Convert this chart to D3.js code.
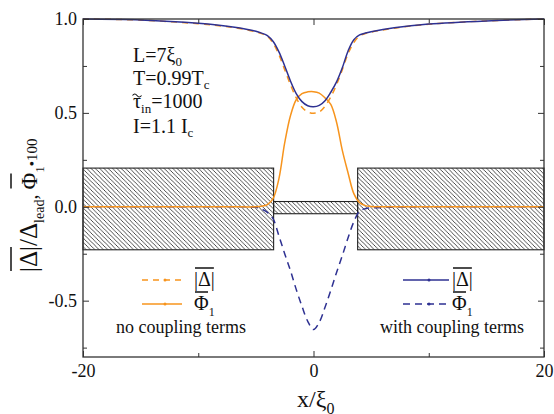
<!DOCTYPE html>
<html>
<head>
<meta charset="utf-8">
<script src="https://cdn.jsdelivr.net/npm/d3@7"></script>
<style>
body { margin: 0; background: #fff; }
svg { display: block; }
</style>
</head>
<body>
<script>
//----------------
//Data
//----------------
var xs = [-20, -15, -10, -7, -5, -4.5, -4, -3.5, -3, -2.5, -2, -1.5, -1, -0.5, 0,
	0.5, 1, 1.5, 2, 2.5, 3, 3.5, 4, 4.5, 5, 7, 10, 15, 20]

//no coupling terms
var deltaNoCoupling = [1.0, 0.994, 0.975, 0.955, 0.932, 0.922, 0.908, 0.87, 0.81, 0.73, 0.65, 0.58, 0.53, 0.505, 0.498,
	0.505, 0.535, 0.585, 0.65, 0.73, 0.815, 0.875, 0.91, 0.922, 0.93, 0.951, 0.972, 0.99, 1.0]
var phiNoCoupling = [0, 0, 0, 0, 0, 0.003, 0.012, 0.045, 0.15, 0.34, 0.485, 0.57, 0.603, 0.612, 0.613,
	0.605, 0.58, 0.545, 0.45, 0.3, 0.18, 0.07, 0.022, 0.006, 0.002, 0, 0, 0, 0]

//with coupling terms
var deltaCoupling = [1.0, 0.995, 0.977, 0.957, 0.935, 0.925, 0.912, 0.88, 0.825, 0.75, 0.67, 0.603, 0.56, 0.538, 0.533,
	0.54, 0.565, 0.61, 0.665, 0.74, 0.83, 0.89, 0.915, 0.925, 0.932, 0.953, 0.973, 0.99, 1.0]
var phiCoupling = [0, 0, 0, 0, -0.003, -0.012, -0.03, -0.065, -0.155, -0.25, -0.34, -0.44, -0.53, -0.61, -0.654,
	-0.615, -0.535, -0.445, -0.35, -0.26, -0.165, -0.08, -0.023, -0.01, -0.006, -0.002, 0, 0, 0]

//hatched regions: [x0, x1, yLow, yHigh]
var leftLead = [-20, -3.46, -0.229, 0.206]
var junction = [-3.46, 3.83, -0.037, 0.028]
var rightLead = [3.83, 20, -0.229, 0.206]

var xTicks = [-20, 0, 20]
var xMinor = [-10, 10]
var yTicks = [-0.5, 0.0, 0.5, 1.0]
var yMinor = [-0.75, -0.25, 0.25, 0.75]

//----------------
//Setup
//----------------
var _width = 554,
	_height = 414

var _font = 'Liberation Serif'

var _orange = '#f7941d',
	_blue = '#2e3192',
	_axis = '#333'

var x = d3.scaleLinear().domain([-20, 20]).range([83, 544])
var y = d3.scaleLinear().domain([-0.8, 1.0]).range([357, 19])

var svg = d3.select('body').append('svg')
	.attr('width', _width)
	.attr('height', _height)
	.attr('font-family', _font)

//hatch pattern
var s = 4.3
svg.append('defs').append('pattern')
	.attr('id', 'hatch')
	.attr('patternUnits', 'userSpaceOnUse')
	.attr('width', s).attr('height', s)
	.append('path')
	.attr('d', 'M0,0L' + s + ',' + s + 'M' + (-1) + ',' + (s - 1) + 'L1,' + (s + 1) + 'M' + (s - 1) + ',-1L' + (s + 1) + ',1')
	.attr('stroke', '#222')
	.attr('stroke-width', 0.8)

//Hatched boxes
var gBoxes = svg.append('g')
gBoxes.selectAll('rect').data([leftLead, junction, rightLead]).enter().append('rect')
	.attr('x', function(d) { return x(d[0]) })
	.attr('y', function(d) { return y(d[3]) })
	.attr('width', function(d) { return x(d[1]) - x(d[0]) })
	.attr('height', function(d) { return y(d[2]) - y(d[3]) })
	.attr('fill', 'url(#hatch)')
	.attr('stroke', '#222')
	.attr('stroke-width', 1.1)

//Curves
var line = d3.line()
	.x(function(d) { return x(d[0]) })
	.y(function(d) { return y(d[1]) })
	.curve(d3.curveCatmullRom.alpha(0.5))

function series(vals){
	return xs.map(function(v, i){ return [v, vals[i]] })
}

var gLines = svg.append('g').attr('fill', 'none').attr('stroke-width', 1.5)
gLines.append('path').attr('d', line(series(phiCoupling)))
	.attr('stroke', _blue).attr('stroke-dasharray', '7,5')
gLines.append('path').attr('d', line(series(phiNoCoupling)))
	.attr('stroke', _orange)
gLines.append('path').attr('d', line(series(deltaNoCoupling)))
	.attr('stroke', _orange).attr('stroke-dasharray', '6,5')
gLines.append('path').attr('d', line(series(deltaCoupling)))
	.attr('stroke', _blue)

//Axes
function styleAxis(g){
	g.attr('font-family', _font).attr('font-size', 18)
	g.select('.domain').remove()
	g.selectAll('line').attr('stroke', _axis).attr('stroke-width', 1)
	g.selectAll('text').attr('fill', '#111')
}

svg.append('g').attr('transform', 'translate(0,357)')
	.call(d3.axisBottom(x).tickValues(xTicks).tickSizeInner(-6).tickSizeOuter(0).tickPadding(7).tickFormat(d3.format('d')))
	.call(styleAxis)
svg.append('g').attr('transform', 'translate(0,357)')
	.call(d3.axisBottom(x).tickValues(xMinor).tickSizeInner(-4).tickSizeOuter(0).tickFormat(''))
	.call(styleAxis)
svg.append('g').attr('transform', 'translate(0,19)')
	.call(d3.axisTop(x).tickValues(xTicks).tickSizeInner(-6).tickSizeOuter(0).tickFormat(''))
	.call(styleAxis)
svg.append('g').attr('transform', 'translate(0,19)')
	.call(d3.axisTop(x).tickValues(xMinor).tickSizeInner(-4).tickSizeOuter(0).tickFormat(''))
	.call(styleAxis)

svg.append('g').attr('transform', 'translate(83,0)')
	.call(d3.axisLeft(y).tickValues(yTicks).tickSizeInner(-6).tickSizeOuter(0).tickPadding(6).tickFormat(d3.format('.1f')))
	.call(styleAxis)
svg.append('g').attr('transform', 'translate(83,0)')
	.call(d3.axisLeft(y).tickValues(yMinor).tickSizeInner(-4).tickSizeOuter(0).tickFormat(''))
	.call(styleAxis)
svg.append('g').attr('transform', 'translate(544,0)')
	.call(d3.axisRight(y).tickValues(yTicks).tickSizeInner(-6).tickSizeOuter(0).tickFormat(''))
	.call(styleAxis)
svg.append('g').attr('transform', 'translate(544,0)')
	.call(d3.axisRight(y).tickValues(yMinor).tickSizeInner(-4).tickSizeOuter(0).tickFormat(''))
	.call(styleAxis)

//use hyphen style minus like the original
svg.selectAll('.tick text').text(function(){ return this.textContent.replace('\u2212', '-') })

//Frame
svg.append('rect')
	.attr('x', x(-20)).attr('y', y(1.0))
	.attr('width', x(20) - x(-20)).attr('height', y(-0.8) - y(1.0))
	.attr('fill', 'none').attr('stroke', _axis).attr('stroke-width', 1.3)

//----------------
//Text helpers
//----------------
function richText(parent, px, py, size, parts){
	var t = parent.append('text').attr('x', px).attr('y', py)
		.attr('font-family', _font)
		.attr('font-size', size).attr('fill', '#111')
	var shift = 0
	parts.forEach(function(p){
		var target = p.dy || 0
		var ts = t.append('tspan').text(p.t).attr('dy', target - shift)
		shift = target
		if ( p.size ) ts.attr('font-size', p.size)
		p.node = ts.node()
	})
	return t
}

function overline(parent, node, yLine){
	var b = node.getBBox()
	parent.append('line')
		.attr('x1', b.x + 1).attr('x2', b.x + b.width - 1)
		.attr('y1', yLine).attr('y2', yLine)
		.attr('stroke', '#111').attr('stroke-width', 1.5)
}

//Annotations
var gNote = svg.append('g')
richText(gNote, 133, 62, 20, [{t: 'L=7ξ'}, {t: '0', size: 13, dy: 4}])
richText(gNote, 133, 85, 20, [{t: 'T=0.99T'}, {t: 'c', size: 13, dy: 4}])
var tauParts = [{t: 'τ'}, {t: 'in', size: 13, dy: 5}, {t: '=1000'}]
richText(gNote, 133, 108, 20, tauParts)
//tilde over tau
var tb = tauParts[0].node.getBBox()
var tcx = tb.x + tb.width / 2
gNote.append('path')
	.attr('d', 'M' + (tcx - 4.5) + ',95.5 q2.2,-3 4.5,0 t4.5,0')
	.attr('fill', 'none').attr('stroke', '#111').attr('stroke-width', 1.1)
richText(gNote, 133, 133, 20, [{t: 'I=1.1 I'}, {t: 'c', size: 13, dy: 4}])

//Legends
function legend(lx0, lx1, ly, color, dash, labelX, parts, overY){
	var g = svg.append('g')
	g.append('line').attr('x1', lx0).attr('x2', lx1).attr('y1', ly).attr('y2', ly)
		.attr('stroke', color).attr('stroke-width', 1.5).attr('stroke-dasharray', dash)
	g.append('circle').attr('cx', (lx0 + lx1) / 2 + 3).attr('cy', ly).attr('r', 1.5).attr('fill', color)
	richText(g, labelX, ly + 6, 20, parts)
	overline(g, parts[0].node, overY)
}

var pD1 = [{t: '|Δ|'}]
var pP1 = [{t: 'Φ'}, {t: '1', size: 12, dy: 6}]
legend(142, 182, 280, _orange, '6,5', 194, pD1, 268)
legend(142, 182, 304, _orange, null, 194, pP1, 292)
svg.append('text').attr('x', 181).attr('y', 333).attr('text-anchor', 'middle')
	.attr('font-family', _font)
	.attr('font-size', 18).attr('fill', '#111').text('no coupling terms')

var pD2 = [{t: '|Δ|'}]
var pP2 = [{t: 'Φ'}, {t: '1', size: 12, dy: 6}]
legend(403, 449, 280, _blue, null, 452, pD2, 268)
legend(403, 449, 304, _blue, '7,5', 452, pP2, 292)
svg.append('text').attr('x', 452).attr('y', 333).attr('text-anchor', 'middle')
	.attr('font-family', _font)
	.attr('font-size', 18).attr('fill', '#111').text('with coupling terms')

//X label
richText(svg, 297, 407, 24, [{t: 'x/ξ'}, {t: '0', size: 16, dy: 7}])

//Y label
var gY = svg.append('g').attr('transform', 'translate(37,272) rotate(-90)')
var yParts = [
	{t: '|Δ|', size: 25},
	{t: '/Δ', size: 25},
	{t: 'lead', size: 14, dy: 7},
	{t: ', ', size: 20},
	{t: 'Φ', size: 23},
	{t: '1', size: 13, dy: 7},
	{t: '•100', size: 15}
]
richText(gY, 0, 0, 20, yParts)
overline(gY, yParts[0].node, -26)
overline(gY, yParts[4].node, -26)
</script>
</body>
</html>
